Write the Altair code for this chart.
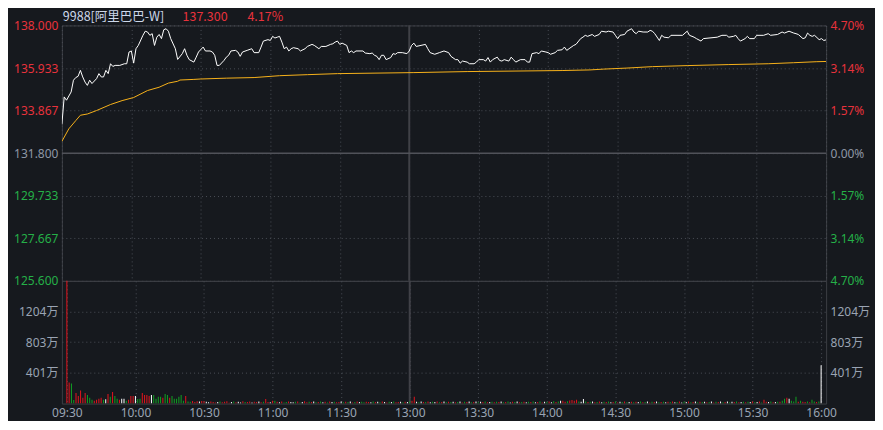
import altair as alt
import pandas as pd

PREV_CLOSE = 131.8
TITLE_NAME = "9988[阿里巴巴-W]"
TITLE_PRICE = "137.300"
TITLE_PCT = "4.17%"

time_ticks = [0, 30, 60, 90, 120, 150, 180, 210, 240, 270, 300, 330]
time_labels = ["09:30", "10:00", "10:30", "11:00", "11:30", "13:00",
               "13:30", "14:00", "14:30", "15:00", "15:30", "16:00"]
price_ticks = [138.0, 135.933, 133.867, 131.8, 129.733, 127.667, 125.6]
vol_ticks = [401, 803, 1204]

price_min = [0, 1, 2, 4, 5, 6, 7, 8, 9, 10, 11, 12, 13, 15, 16, 17, 18, 19, 20, 21,
             22, 23, 25, 27, 28, 29, 30, 31, 32, 33, 35, 36, 37, 38, 39, 40, 41, 42, 43, 44,
             45, 46, 47, 49, 50, 52, 53, 54, 55, 57, 58, 59, 61, 62, 64, 65, 66, 67, 68, 70,
             71, 72, 73, 75, 76, 77, 78, 80, 82, 83, 85, 86, 87, 89, 90, 91, 92, 93, 94, 95,
             96, 97, 98, 99, 100, 102, 103, 105, 106, 108, 109, 111, 112, 114, 116, 117, 118, 119, 120, 121,
             123, 124, 125, 126, 127, 130, 131, 133, 134, 135, 136, 137, 138, 139, 140, 142, 143, 144, 145, 147,
             149, 150, 151, 152, 153, 157, 158, 159, 161, 163, 165, 167, 168, 170, 171, 172, 173, 175, 176, 178,
             179, 180, 182, 183, 184, 185, 186, 188, 189, 190, 191, 193, 194, 195, 196, 198, 200, 201, 202, 203,
             205, 206, 207, 209, 210, 211, 213, 214, 216, 217, 218, 219, 221, 222, 224, 225, 226, 227, 229, 230,
             232, 233, 235, 236, 238, 239, 240, 241, 243, 244, 246, 247, 248, 249, 251, 253, 254, 255, 256, 258,
             259, 260, 262, 263, 268, 270, 271, 273, 274, 276, 277, 283, 285, 287, 288, 290, 291, 292, 293, 295,
             296, 297, 299, 300, 303, 305, 306, 309, 311, 312, 314, 316, 317, 318, 320, 321, 322, 323, 324, 325,
             327, 328, 329, 330]
price_val = [133.20, 134.53, 134.37, 134.77, 135.34, 135.47, 135.53, 135.82, 135.50, 135.25, 135.09, 135.34, 135.18, 135.42, 135.66, 135.50, 135.50, 135.82, 135.66, 136.14,
             136.01, 136.06, 136.06, 136.14, 136.14, 136.71, 136.76, 136.17, 136.87, 137.03, 137.52, 137.72, 137.68, 137.52, 137.60, 137.03, 137.43, 137.56, 137.36, 137.79,
             137.84, 137.72, 137.36, 136.87, 136.35, 136.63, 136.87, 136.55, 136.34, 136.22, 136.46, 136.71, 136.95, 136.76, 136.76, 136.71, 136.55, 136.06, 136.06, 136.30,
             136.46, 136.55, 136.76, 136.79, 136.71, 136.50, 136.71, 136.79, 136.87, 136.68, 136.68, 136.95, 137.24, 137.31, 137.27, 137.47, 137.39, 137.43, 137.47, 137.19,
             136.87, 136.95, 136.76, 136.87, 136.92, 136.87, 136.76, 136.87, 136.98, 137.08, 137.03, 136.87, 136.98, 136.98, 137.08, 137.11, 137.19, 137.24, 137.08, 137.14,
             137.03, 136.68, 136.76, 136.68, 136.76, 136.76, 136.66, 136.63, 136.66, 136.55, 136.50, 136.34, 136.55, 136.55, 136.34, 136.44, 136.63, 136.60, 136.68, 136.68,
             136.63, 136.76, 137.03, 137.14, 136.98, 137.08, 136.87, 136.68, 136.60, 136.68, 136.76, 136.68, 136.50, 136.34, 136.34, 136.17, 136.27, 136.22, 136.14, 136.14,
             136.22, 136.34, 136.34, 136.27, 136.44, 136.22, 136.34, 136.46, 136.30, 136.27, 136.34, 136.27, 136.46, 136.34, 136.22, 136.34, 136.34, 136.22, 136.22, 136.63,
             136.68, 136.63, 136.76, 136.71, 136.68, 136.60, 136.68, 136.79, 136.82, 136.95, 136.79, 136.87, 137.03, 137.08, 137.36, 137.43, 137.52, 137.47, 137.56, 137.47,
             137.56, 137.72, 137.68, 137.72, 137.68, 137.52, 137.36, 137.52, 137.56, 137.72, 137.84, 137.68, 137.60, 137.72, 137.68, 137.68, 137.76, 137.72, 137.60, 137.27,
             137.52, 137.43, 137.40, 137.52, 137.52, 137.72, 137.52, 137.43, 137.36, 137.24, 137.36, 137.43, 137.52, 137.52, 137.43, 137.47, 137.52, 137.36, 137.24, 137.36,
             137.47, 137.36, 137.36, 137.52, 137.52, 137.60, 137.52, 137.56, 137.68, 137.63, 137.72, 137.63, 137.60, 137.56, 137.36, 137.40, 137.63, 137.52, 137.47, 137.52,
             137.31, 137.36, 137.27, 137.30]

avg_min = [0, 3, 6, 8, 11, 15, 21, 26, 31, 37, 42, 46, 50, 51, 57, 60, 71, 83, 94, 106,
           119, 152, 175, 216, 228, 234, 244, 255, 270, 288, 305, 316, 326, 330]
avg_val = [132.37, 132.98, 133.38, 133.64, 133.70, 133.87, 134.16, 134.35, 134.50, 134.84,
           135.00, 135.20, 135.29, 135.35, 135.38, 135.40, 135.44, 135.47, 135.56, 135.61,
           135.66, 135.71, 135.76, 135.81, 135.84, 135.88, 135.93, 136.00, 136.05, 136.10,
           136.14, 136.19, 136.24, 136.25]

vol_val = [
    1700, 275, 263, 45, 138, 100, 172, 75, 138, 113,
    75, 50, 38, 50, 63, 75, 50, 55, 125, 88,
    150, 100, 63, 50, 63, 63, 38, 50, 100, 100,
    100, 60, 63, 138, 113, 113, 100, 113, 113, 63,
    88, 88, 75, 125, 113, 75, 100, 63, 63, 88,
    113, 38, 100, 28, 25, 32, 22, 30, 26, 34,
    30, 24, 18, 26, 22, 14, 20, 28, 16, 25,
    30, 12, 22, 26, 18, 24, 14, 30, 22, 19,
    26, 15, 24, 20, 28, 18, 25, 60, 22, 16,
    38, 36, 24, 18, 28, 14, 22, 26, 20, 18,
    24, 28, 15, 22, 30, 18, 24, 20, 27, 16,
    22, 26, 18, 24, 14, 28, 20, 25, 18, 22,
    26, 16, 24, 20, 28, 15, 22, 26, 19, 24,
    18, 25, 22, 16, 27, 20, 24, 18, 26, 22,
    15, 24, 20, 28, 18, 22, 25, 16, 23, 20,
    28, 36, 88, 24, 18, 26, 20, 22, 28, 16,
    24, 20, 26, 18, 22, 27, 16, 24, 20, 25,
    18, 22, 26, 15, 24, 20, 28, 18, 22, 26,
    16, 24, 20, 27, 18, 22, 25, 16, 24, 20,
    26, 18, 22, 28, 15, 24, 20, 26, 18, 22,
    25, 16, 24, 20, 28, 18, 22, 26, 15, 24,
    20, 26, 18, 30, 22, 28, 38, 36, 24, 30,
    40, 45, 38, 50, 28, 24, 60, 26, 20, 24,
    28, 18, 22, 26, 16, 24, 20, 28, 18, 22,
    26, 15, 24, 20, 27, 18, 22, 25, 16, 24,
    20, 26, 18, 22, 28, 15, 24, 20, 26, 18,
    22, 25, 16, 24, 20, 28, 18, 22, 26, 15,
    24, 20, 26, 18, 22, 27, 16, 24, 20, 25,
    18, 22, 26, 15, 24, 20, 28, 18, 22, 26,
    16, 24, 20, 27, 18, 22, 25, 16, 24, 20,
    26, 18, 22, 28, 15, 50, 24, 20, 26, 18,
    22, 25, 24, 38, 63, 75, 63, 38, 26, 90,
    24, 38, 25, 20, 26, 18, 50, 28, 22, 26,
    500,
]
vol_dir = ("rrggrrrrrg" "ggrrrrgwrg" "rggrwwgrrr" "wggrrrrwgg" "ggrggrgggg" "ggr"
           "ggrrrwr"
           "rwwrrrwgrr" "rrwgrwwrgr" "rwrrwrgrrw" "rgrwrggrww" "grgwrrgrwg"
           "rgwrgrwgrr" "wgrgwrgrwg" "grrwgrwgrw" "rgwgrrwgrw" "grrwgwrgrw"
           "gwrgrwgrgw" "rgwrgrwgrw" "gwrgrwgrgr" "wgrgwrgwrg" "rwgrgwrgrw"
           "grwgrgwrrg" "rrrrgwwgrg" "wrgrwgrgwr" "grwgrgwrgr" "wgrgwrgrwg"
           "rgwrgrwgrw" "gwrgrwgrgw" "rgwrgrwgrw" "gwrgrwgrgw" "rgwrgrrwgr"
           "wgrggrwggg" "rgrrgrggrg" "w")

# ---------------- styling ----------------
BG = "#16191e"
GRID = "#4a4e56"
BORDER = "#3c3e44"
RED = "#e8323c"
GREEN = "#25b048"
GREY = "#8e97a5"
AXT = "#9aa4b3"
ORANGE = "#f7b21b"
FONT = "Noto Sans, Noto Sans CJK SC"
W, H1, H2 = 766, 256, 123

label_color = {
    "condition": [
        {"test": "datum.value > 131.81", "value": RED},
        {"test": "datum.value < 131.79", "value": GREEN},
    ],
    "value": GREY,
}

xscale = alt.Scale(domain=[0, 330], nice=False, zero=False)
pscale = alt.Scale(domain=[125.6, 138.0], nice=False, zero=False)
vscale = alt.Scale(domain=[0, 1605], nice=False, zero=True)

x_top_axis = alt.Axis(values=time_ticks, labels=False, ticks=False, domain=False, grid=True,
                      gridDash=[1, 3], gridColor=GRID, title=None)
label_js = "[" + ",".join("'%s'" % s for s in time_labels) + "]"
x_bot_axis = alt.Axis(values=time_ticks, labelExpr=label_js + "[round(datum.value/30)]",
                      ticks=False, domain=False, grid=True, gridDash=[1, 3], gridColor=GRID,
                      labelColor=AXT, labelFont=FONT, labelFontSize=12, labelPadding=4,
                      labelFlush=False, title=None)

price_df = pd.DataFrame({"m": price_min, "p": price_val})
avg_df = pd.DataFrame({"m": avg_min, "a": avg_val})
vol_df = pd.DataFrame({"m": list(range(len(vol_val))), "v": vol_val, "d": list(vol_dir)})

left_price_axis = alt.Axis(values=price_ticks, format=".3f", orient="left", labelColor=label_color,
                           grid=True, gridDash=[1, 3], gridColor=GRID, ticks=False, domain=False,
                           labelFont=FONT, labelFontSize=12, labelPadding=4, title=None)
right_pct_axis = alt.Axis(values=price_ticks, orient="right",
                          labelExpr="format(abs(datum.value - 131.8) / 131.8 * 100, '.2f') + '%'",
                          labelColor=label_color, grid=False, ticks=False, domain=False,
                          labelFont=FONT, labelFontSize=12, labelPadding=4, title=None)

prev_rule = alt.Chart(pd.DataFrame({"y": [PREV_CLOSE]})).mark_rule(
    color="#505259", strokeWidth=1.5).encode(y=alt.Y("y:Q", scale=pscale, axis=None))
lunch_rule_top = alt.Chart(pd.DataFrame({"x": [150]})).mark_rule(
    color="#404147", strokeWidth=2).encode(x=alt.X("x:Q", scale=xscale, axis=x_top_axis))

price_line = alt.Chart(price_df).mark_line(color="#ffffff", strokeWidth=1, clip=True).encode(
    x=alt.X("m:Q", scale=xscale, axis=x_top_axis),
    y=alt.Y("p:Q", scale=pscale, axis=left_price_axis),
)
avg_line = alt.Chart(avg_df).mark_line(color=ORANGE, strokeWidth=1, clip=True).encode(
    x=alt.X("m:Q", scale=xscale, axis=x_top_axis),
    y=alt.Y("a:Q", scale=pscale, axis=right_pct_axis),
)

TY = -8
t1 = alt.Chart(pd.DataFrame({"t": [TITLE_NAME]})).mark_text(
    align="left", baseline="middle", font="Noto Sans CJK SC", fontSize=12.5, color="#cdd8ea").encode(
    text="t:N", x=alt.value(1), y=alt.value(TY))
t2 = alt.Chart(pd.DataFrame({"t": [TITLE_PRICE]})).mark_text(
    align="left", baseline="middle", font="Noto Sans CJK SC", fontSize=12.5, color=RED).encode(
    text="t:N", x=alt.value(121), y=alt.value(TY))
t3 = alt.Chart(pd.DataFrame({"t": [TITLE_PCT]})).mark_text(
    align="left", baseline="middle", font="Noto Sans CJK SC", fontSize=12.5, color=RED).encode(
    text="t:N", x=alt.value(186), y=alt.value(TY))

top = alt.layer(lunch_rule_top, prev_rule, price_line, avg_line, t1, t2, t3).resolve_axis(
    y="independent").properties(width=W, height=H1)

vol_axis_left = alt.Axis(values=vol_ticks, orient="left", labelExpr="datum.value + '万'",
                         labelColor=AXT, grid=True, gridDash=[1, 3], gridColor=GRID, ticks=False,
                         domain=False, labelFont=FONT, labelFontSize=12, labelPadding=4, title=None)
vol_axis_right = alt.Axis(values=vol_ticks, orient="right", labelExpr="datum.value + '万'",
                          labelColor=AXT, grid=False, ticks=False, domain=False,
                          labelFont=FONT, labelFontSize=12, labelPadding=4, title=None)

lunch_rule_bot = alt.Chart(pd.DataFrame({"x": [150]})).mark_rule(
    color="#404147", strokeWidth=2).encode(x=alt.X("x:Q", scale=xscale, axis=x_bot_axis))
bars = alt.Chart(vol_df).mark_bar(size=1, clip=True).encode(
    x=alt.X("m:Q", scale=xscale, axis=x_bot_axis),
    y=alt.Y("v:Q", scale=vscale, axis=vol_axis_left),
    color=alt.Color("d:N", scale=alt.Scale(domain=["r", "g", "w"],
                                           range=["#e3141d", "#11a122", "#ffffff"]), legend=None),
)
bars_r = alt.Chart(vol_df).mark_bar(size=1, clip=True, opacity=0).encode(
    x=alt.X("m:Q", scale=xscale, axis=x_bot_axis),
    y=alt.Y("v:Q", scale=vscale, axis=vol_axis_right),
)
bottom = alt.layer(lunch_rule_bot, bars, bars_r).resolve_axis(y="independent").properties(
    width=W, height=H2)

chart = alt.vconcat(top, bottom, spacing=0, bounds="flush").configure(
    background=BG, padding={"left": 5, "right": 5, "top": 2, "bottom": 1}
).configure_view(stroke=BORDER, strokeWidth=1)

chart.save("out.html", embed_options={"renderer": "svg", "actions": False})
